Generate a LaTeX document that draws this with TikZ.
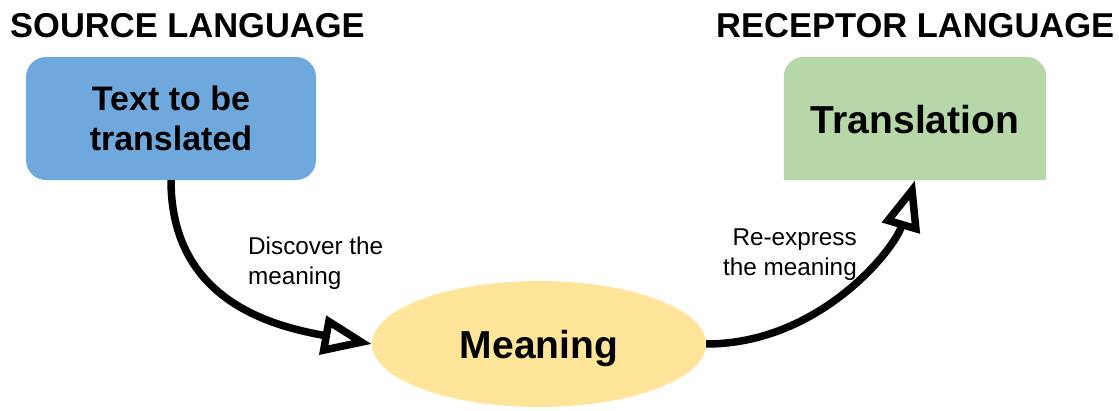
\documentclass[tikz,border=0pt]{standalone}
\usepackage{fontspec}
\setmainfont{Liberation Sans}
\usetikzlibrary{arrows.meta,shapes.geometric,backgrounds}
\definecolor{srcblue}{HTML}{6FA8DC}
\definecolor{recgreen}{HTML}{B6D7A8}
\definecolor{meanyellow}{HTML}{FFE599}
\tikzset{
  title/.style={anchor=base west,inner sep=0pt,font=\fontsize{34.5}{40}\selectfont\bfseries},
  boxtext/.style={inner sep=0pt,align=center},
  lbl/.style={inner sep=0pt,font=\fontsize{24.3}{29.5}\selectfont},
  conn/.style={line width=7.5pt,-{Triangle[open,length=50pt,width=38pt,fill=white]}},
}
\begin{document}
\begin{tikzpicture}[x=1pt,y=-1pt]
\useasboundingbox (0,0) rectangle (1119,410);
% titles
\node[title] (srctitle) at (10,37) {SOURCE LANGUAGE};
\node[title] (rectitle) at (716,37) {RECEPTOR LANGUAGE};
% source box
\node[boxtext,fill=srcblue,rounded corners=20pt,minimum width=290pt,minimum height=123pt,
      font=\fontsize{34}{40}\selectfont\bfseries] (src) at (171,118.5) {\raisebox{-2pt}{Text to be}\\\raisebox{-2pt}{translated}};
% translation box
\node[boxtext,minimum width=262pt,minimum height=123pt,text depth=0pt,
      font=\fontsize{39}{45}\selectfont\bfseries] (trans) at (915,118.5) {\raisebox{-2pt}{Translation}};
\begin{scope}[on background layer]
\fill[recgreen] (trans.south west) [rounded corners=20pt] -- (trans.north west) -- (trans.north east) [sharp corners] -- (trans.south east) -- cycle;
\end{scope}
% meaning ellipse
\node[ellipse,fill=meanyellow,inner sep=0pt,minimum width=334pt,minimum height=126pt,text depth=0pt,
      font=\fontsize{39}{45}\selectfont\bfseries] (mean) at (539,344) {Meaning};
% connectors
\draw[conn] (src.south) .. controls ([yshift=-120pt]src.south) and ([xshift=-100pt,yshift=18pt]mean.west) .. (mean.west);
\draw[conn] (mean.east) .. controls ([xshift=114pt]mean.east) and ([xshift=-20pt,yshift=-68pt]trans.south) .. (trans.south);
% labels
\node[lbl,anchor=north west,align=left] (lblA) at (248,237) {Discover the\\meaning};
\node[lbl,anchor=north east,align=right] (lblB) at (857,229) {Re-express\\the meaning};
\end{tikzpicture}
\end{document}
